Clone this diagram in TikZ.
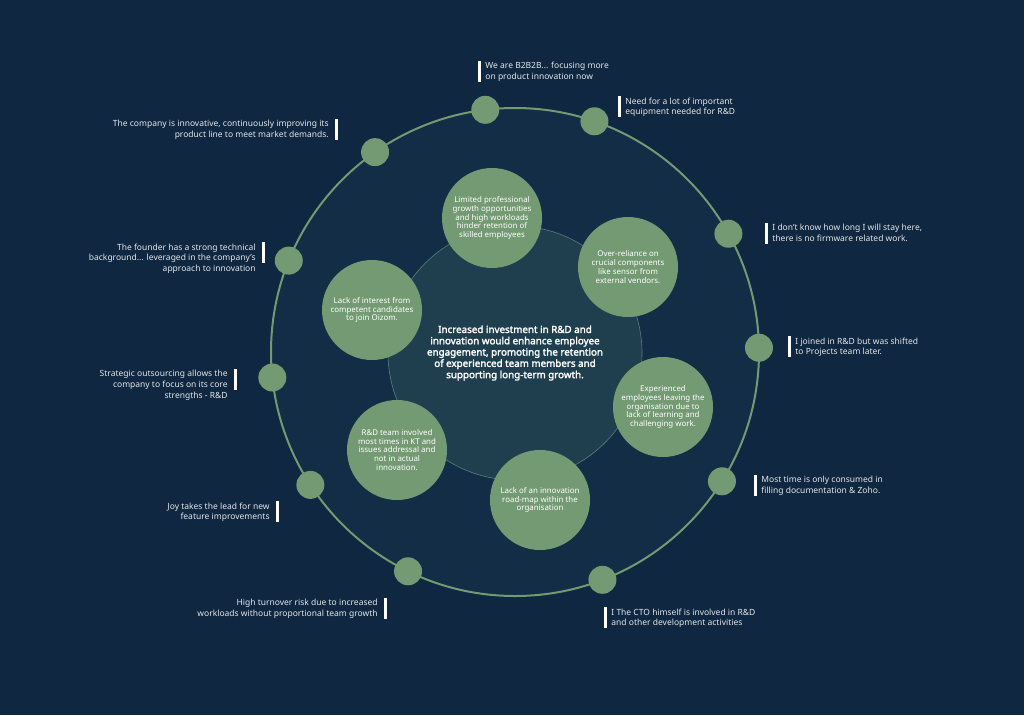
\documentclass[tikz,border=0pt]{standalone}
\usepackage{fontspec}
\setmainfont{Noto Sans}
\newfontfamily\heavy{Noto Sans}[FakeBold=2.2]
\usepackage{tikz}
\usetikzlibrary{positioning,calc}
\definecolor{Night}{HTML}{0F2740}
\definecolor{Orbit}{HTML}{122D45}
\definecolor{Core}{HTML}{1F3F4F}
\definecolor{CoreLine}{HTML}{5C7C80}
\definecolor{Sage}{HTML}{739A73}
\definecolor{Ink}{HTML}{E3E7EB}
\tikzset{
 dot/.style={circle, fill=Sage, minimum size=28pt, inner sep=0pt},
 bubble/.style={circle, fill=Sage, minimum size=100pt, inner sep=0pt, align=center, text=white, font=\fontsize{7.9}{8.7}\selectfont},
 hub/.style={circle, fill=Core, draw=CoreLine, line width=0.6pt, minimum size=254pt, inner sep=0pt, align=center, text=white, font=\heavy\fontsize{9.8}{11.3}\selectfont},
 ring/.style={draw=Sage, line width=2pt},
 bar/.style={fill=white, minimum width=3pt, minimum height=21pt, inner sep=0pt},
 quoteR/.style={anchor=north west, align=left, inner sep=0pt, text=Ink, font=\fontsize{8.5}{10.7}\selectfont},
 quoteL/.style={anchor=north east, align=right, inner sep=0pt, text=Ink, font=\fontsize{8.5}{10.7}\selectfont}
}
\begin{document}
\begin{tikzpicture}[x=1pt,y=-1pt]
\useasboundingbox (0,0) rectangle (1024,715);
\fill[Night] (0,0) rectangle (1024,715);
\coordinate (mid) at (515,352);
\fill[Orbit] (mid) circle[radius=244pt];
\node[hub] (hub) at (515,353) {Increased investment in R\&D and\\innovation would enhance employee\\engagement, promoting the retention\\of experienced team members and\\supporting long-term growth.};
\draw[ring] (mid) circle[radius=244pt];
\foreach \a [count=\i] in {97,71,29,1,-32,-69,-116,-147,-174,158,125}
 \node[dot] (d\i) at ($(mid)+(\a:244pt)$) {};
\node[bubble] (growth) at (492,218) {Limited professional\\growth opportunities\\and high workloads\\hinder retention of\\skilled employees};
\node[bubble] (vendors) at (628,267) {Over-reliance on\\crucial components\\like sensor from\\external vendors.};
\node[bubble] (hiring) at (372,310) {Lack of interest from\\competent candidates\\to join Oizom.};
\node[bubble] (leaving) at (663,407) {Experienced\\employees leaving the\\organisation due to\\lack of learning and\\challenging work.};
\node[bubble] (kt) at (397,450) {R\&D team involved\\most times in KT and\\issues addressal and\\not in actual\\innovation.};
\node[bubble] (roadmap) at (540,500) {Lack of an innovation\\road-map within the\\organisation};
% right side quotes
\node[bar] (b1) at (479.5,71) {};
\node[quoteR] (q1) at ([xshift=4pt,yshift=-1.5pt]b1.north east) {We are B2B2B... focusing more\\on product innovation now};
\node[bar] (b2) at (619.5,106.5) {};
\node[quoteR] (q2) at ([xshift=4pt,yshift=-1.5pt]b2.north east) {Need for a lot of important\\equipment needed for R\&D};
\node[bar] (b3) at (766.5,233) {};
\node[quoteR] (q3) at ([xshift=4pt,yshift=-1.5pt]b3.north east) {I don't know how long I will stay here,\\there is no firmware related work.};
\node[bar] (b4) at (789.5,346.5) {};
\node[quoteR] (q4) at ([xshift=4pt,yshift=-1.5pt]b4.north east) {I joined in R\&D but was shifted\\to Projects team later.};
\node[bar] (b5) at (755.5,485.5) {};
\node[quoteR] (q5) at ([xshift=4pt,yshift=-1.5pt]b5.north east) {Most time is only consumed in\\filling documentation \& Zoho.};
\node[bar] (b6) at (605.5,617.5) {};
\node[quoteR] (q6) at ([xshift=4pt,yshift=-1.5pt]b6.north east) {I The CTO himself is involved in R\&D\\and other development activities};
% left side quotes
\node[bar] (b7) at (385.5,608) {};
\node[quoteL] (q7) at ([xshift=-6pt,yshift=-1.5pt]b7.north west) {High turnover risk due to increased\\workloads without proportional team growth};
\node[bar] (b8) at (277.5,511.5) {};
\node[quoteL] (q8) at ([xshift=-6pt,yshift=-1.5pt]b8.north west) {Joy takes the lead for new\\feature improvements};
\node[bar] (b9) at (235.5,379.5) {};
\node[quoteL] (q9) at ([xshift=-6pt,yshift=-1.5pt]b9.north west) {Strategic outsourcing allows the\\company to focus on its core\\strengths - R\&D};
\node[bar] (b10) at (263.5,252.5) {};
\node[quoteL] (q10) at ([xshift=-6pt,yshift=-1.5pt]b10.north west) {The founder has a strong technical\\background... leveraged in the company's\\approach to innovation};
\node[bar] (b11) at (336.5,129.5) {};
\node[quoteL] (q11) at ([xshift=-6pt,yshift=-1.5pt]b11.north west) {The company is innovative, continuously improving its\\product line to meet market demands.};
\end{tikzpicture}
\end{document}
